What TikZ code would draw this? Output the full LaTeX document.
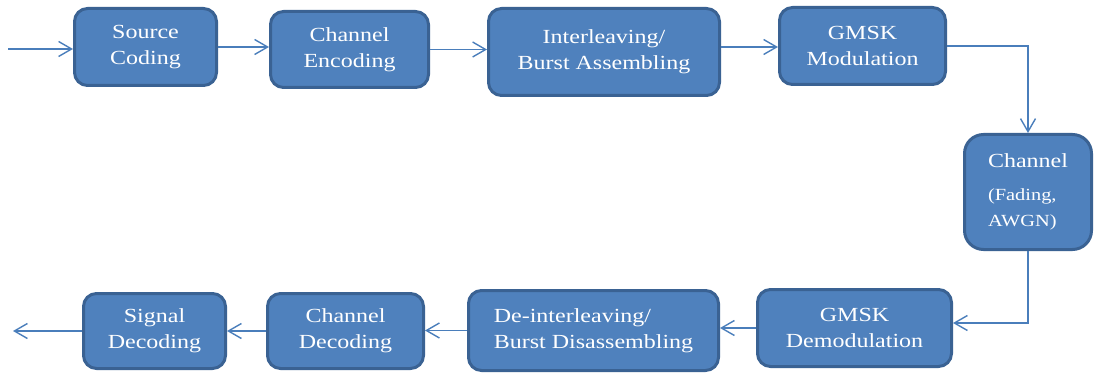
\documentclass[tikz,border=0pt]{standalone}
\usepackage{fontspec}
\setmainfont{Liberation Serif}[FakeStretch=1.2]
\usetikzlibrary{arrows.meta}
\definecolor{boxfill}{HTML}{4F81BD}
\definecolor{boxline}{HTML}{3A6293}
\definecolor{wire}{HTML}{4A7EBB}

\begin{document}
\begin{tikzpicture}[x=1pt,y=-1pt,
  block/.style={draw=boxline, fill=boxfill, line width=3pt, rounded corners=13pt,
    text=white, font=\fontsize{20}{26}\selectfont, align=center, inner sep=0pt},
  flow/.style={draw=wire, line width=1.4pt,
    -{Straight Barb[length=13pt,width=15pt]}}]

\useasboundingbox (0,0) rectangle (1094,374);

% transmitter chain (top row)
\node[block, minimum width=142pt, minimum height=77pt] (src)  at (145.5,47)  {Source\\Coding};
\node[block, minimum width=158pt, minimum height=76pt] (enc)  at (349.5,49.5) {Channel\\Encoding};
\node[block, minimum width=231pt, minimum height=87pt] (intl) at (604,52)    {Interleaving/\\Burst Assembling};
\node[block, minimum width=166pt, minimum height=77pt] (mod)  at (862.5,46)  {GMSK\\Modulation};

% radio channel
\node[block, rounded corners=19pt, align=left, minimum width=127pt, minimum height=115pt]
  (chan) at (1028,192)
  {Channel\\[7pt]\fontsize{17}{22}\selectfont (Fading,\\\fontsize{17}{22}\selectfont AWGN)};

% receiver chain (bottom row)
\node[block, minimum width=194pt, minimum height=77pt] (demod) at (854.5,328) {GMSK\\Demodulation};
\node[block, align=left, minimum width=250pt, minimum height=80pt] (deint) at (593.5,330.5) {De-interleaving/\\Burst Disassembling};
\node[block, minimum width=156pt, minimum height=75pt] (cdec) at (345.5,331) {Channel\\Decoding};
\node[block, minimum width=142pt, minimum height=75pt] (sdec) at (154.5,331) {Signal\\Decoding};

\coordinate (in)  at (8,49);
\coordinate (out) at (13,331);

% connectors
\draw[flow] (in) -- (in -| src.west);
\draw[flow] (src.east) -- (src.east -| enc.west);
\draw[flow] (enc.east) -- (enc.east -| intl.west);
\draw[flow] ([yshift=5pt]intl.east) -- ([yshift=5pt]intl.east -| mod.west);
\draw[flow] (mod.east) -| (chan.north);
\draw[flow] (chan.south) |- ([yshift=5pt]demod.east);
\draw[flow] (demod.west) -- (demod.west -| deint.east);
\draw[flow] (deint.west) -- (deint.west -| cdec.east);
\draw[flow] (cdec.west) -- (cdec.west -| sdec.east);
\draw[flow] (sdec.west) -- (out);
\end{tikzpicture}
\end{document}
